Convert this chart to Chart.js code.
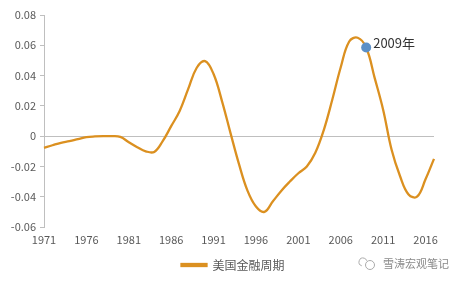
<!DOCTYPE html>
<html>
<head>
<meta charset="utf-8">
<script src="https://cdn.jsdelivr.net/npm/chart.js@4.4.1/dist/chart.umd.min.js"></script>
<style>
  html, body { margin: 0; padding: 0; background: #fff; }
  #wrap { width: 464px; height: 283px; position: relative; }
</style>
</head>
<body>
<div id="wrap"><canvas id="chart"></canvas></div>
<script>
// 数据：美国金融周期（年度）
const years = [];
for (let y = 1971; y <= 2017; y++) years.push(String(y));

const cycleValues = [
  -0.0077, -0.0060, -0.0044, -0.0033, -0.0020, -0.0007, -0.0002, 0.0000, 0.0000, -0.0005,
  -0.0040, -0.0073, -0.0100, -0.0104, -0.0033, 0.0066, 0.0166, 0.0310, 0.0450, 0.0495,
  0.0410, 0.0230, 0.0020, -0.0185, -0.0360, -0.0465, -0.0500, -0.0430, -0.0360, -0.0300,
  -0.0245, -0.0200, -0.0110, 0.0040, 0.0240, 0.0455, 0.0625, 0.0650, 0.0585, 0.0385,
  0.0175, -0.0090, -0.0265, -0.0385, -0.0400, -0.0285, -0.0150
];

const markYear = '2009';
const markLabel = '2009年';
const seriesName = '美国金融周期';
const watermark = '雪涛宏观笔记';

const yTicks = [0.08, 0.06, 0.04, 0.02, 0, -0.02, -0.04, -0.06];

const ORANGE = '#DB9020';
const AXIS_GRAY = '#BFBFBF';

const markData = years.map((y, i) => y === markYear ? cycleValues[i] : null);

const FONT = '"Noto Sans CJK SC", "Noto Sans", sans-serif';

// 标注 + 水印
const extrasPlugin = {
  id: 'extras',
  afterLayout(chart) {
    // 图例整体居中于画布
    chart.legend.left += 16;
    chart.legend.right += 16;
  },
  afterDatasetsDraw(chart) {
    const ctx = chart.ctx;
    const meta = chart.getDatasetMeta(0);
    const idx = years.indexOf(markYear);
    const pt = meta.data[idx];
    ctx.save();
    ctx.font = '13px ' + FONT;
    ctx.fillStyle = '#333';
    ctx.textBaseline = 'middle';
    ctx.fillText(markLabel, pt.x + 7, pt.y - 4);

    // 水印
    ctx.fillStyle = '#8a8a8a';
    ctx.font = '11px ' + FONT;
    ctx.fillText(watermark, 383, 264);
    ctx.strokeStyle = '#aaa';
    ctx.lineWidth = 1;
    ctx.beginPath();
    ctx.arc(370, 265, 4.5, 0, Math.PI * 2);
    ctx.stroke();
    ctx.beginPath();
    ctx.arc(363, 262, 4, Math.PI * 0.6, Math.PI * 1.9);
    ctx.stroke();
    ctx.restore();
  }
};

new Chart(document.getElementById('chart'), {
  type: 'line',
  data: {
    labels: years,
    datasets: [
      {
        label: markLabel,
        data: markData,
        borderColor: '#5B8FC7',
        backgroundColor: '#5B8FC7',
        pointRadius: 5,
        pointBorderWidth: 0,
        showLine: false,
        order: 0
      },
      {
        label: seriesName,
        data: cycleValues,
        borderColor: ORANGE,
        backgroundColor: ORANGE,
        borderWidth: 2.3,
        pointRadius: 0,
        tension: 0.4,
        fill: false,
        order: 1
      }
    ]
  },
  options: {
    responsive: true,
    maintainAspectRatio: false,
    animation: false,
    layout: { padding: { top: 15, right: 30, left: 0, bottom: 2 } },
    plugins: {
      tooltip: { enabled: false },
      legend: {
        position: 'bottom',
        labels: {
          filter: item => item.text === seriesName,
          boxWidth: 25,
          boxHeight: 2,
          padding: 8,
          color: '#595959',
          font: { family: FONT, size: 12 }
        }
      }
    },
    scales: {
      x: {
        offset: false,
        grid: { display: false, drawTicks: false },
        border: { display: false },
        ticks: {
          autoSkip: false,
          maxRotation: 0,
          minRotation: 0,
          padding: 6,
          color: '#595959',
          font: { family: FONT, size: 11 },
          callback: function(val, i) { return i % 5 === 0 ? this.getLabelForValue(val) : null; }
        },
        afterFit: s => { s.height = 24; }
      },
      y: {
        min: -0.06,
        max: 0.08,
        afterBuildTicks: s => { s.ticks = yTicks.map(v => ({ value: v })); },
        grid: {
          color: c => (c.tick && c.tick.value === 0) ? AXIS_GRAY : 'rgba(0,0,0,0)',
          tickColor: AXIS_GRAY,
          tickLength: 4,
          lineWidth: 1
        },
        border: { display: true, color: AXIS_GRAY },
        ticks: {
          padding: 4,
          color: '#595959',
          font: { family: FONT, size: 11 },
          callback: v => String(Math.round(v * 100) / 100)
        },
        afterFit: s => { s.width = 44; }
      }
    }
  },
  plugins: [extrasPlugin]
});
</script>
</body>
</html>
